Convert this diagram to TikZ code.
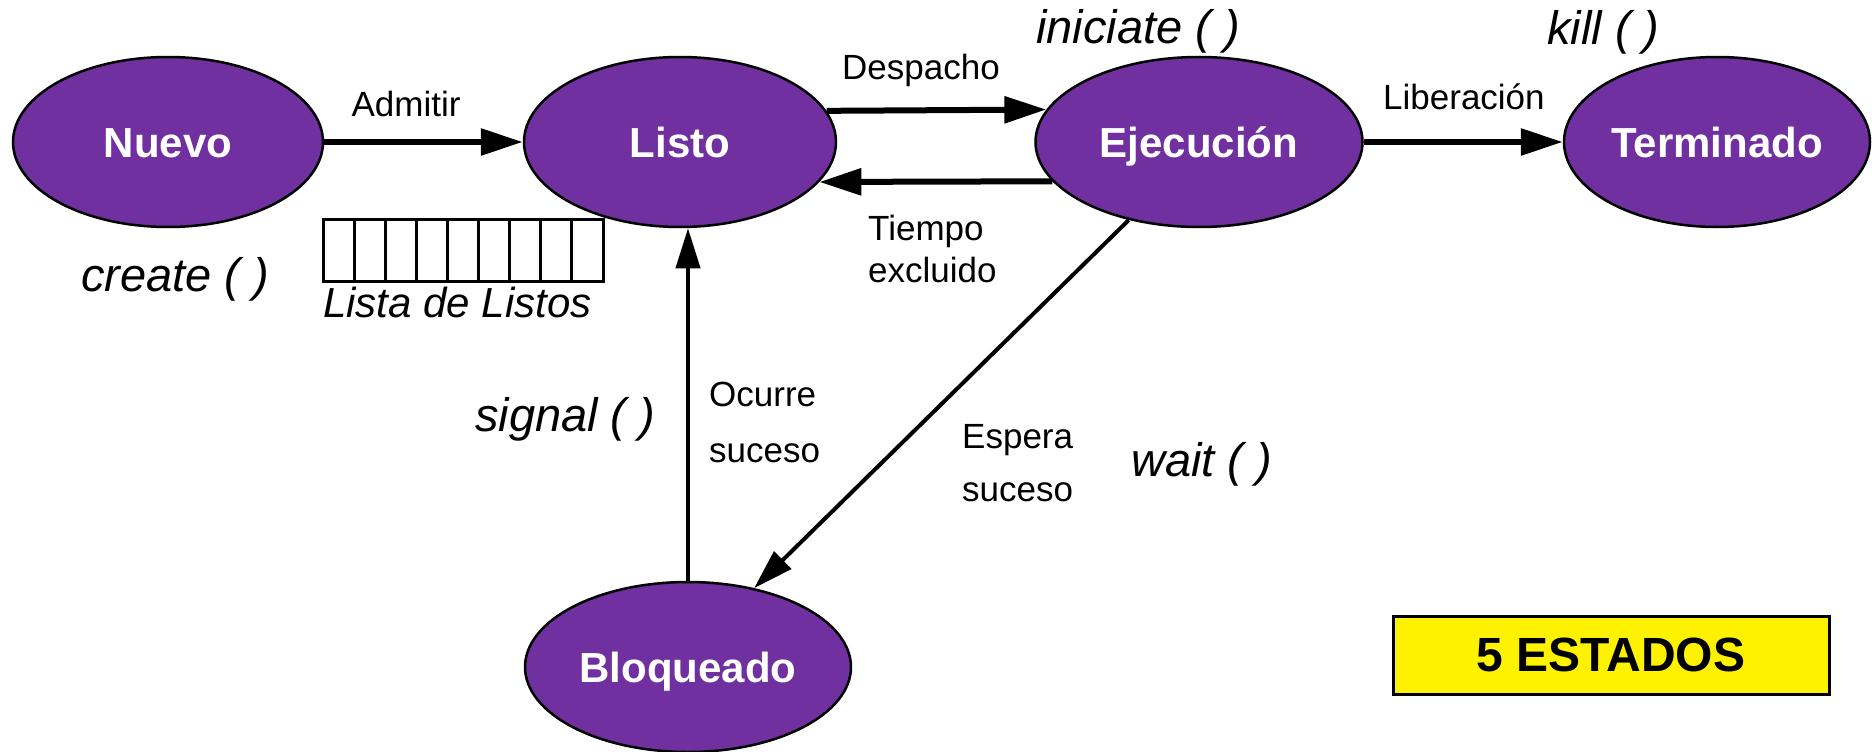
\documentclass[tikz,border=0pt]{standalone}
\usepackage{fontspec}
\setmainfont{Liberation Sans}
\usetikzlibrary{shapes.geometric,arrows.meta}
\definecolor{stpurple}{RGB}{112,48,160}
\begin{document}
\begin{tikzpicture}[x=1pt,y=-1pt,
  state/.style={ellipse, draw=black, line width=2.5pt, fill=stpurple, text=white,
    font=\fontsize{42}{50}\selectfont\bfseries, inner sep=0pt,
    text height=30pt, text depth=0pt,
    minimum width=312pt, minimum height=170pt},
  lbl/.style={inner sep=0pt, font=\fontsize{35}{42}\selectfont},
  fn/.style={inner sep=0pt, font=\fontsize{47}{55}\selectfont\itshape},
  arr/.style={line width=6pt, -{Triangle[length=42pt,width=26pt]}},
  thinarr/.style={line width=4pt, -{Triangle[length=40pt,width=24pt]}}
]
\useasboundingbox (0,0) rectangle (1872,752);

% states
\node[state, minimum width=310pt] (nuevo) at (168,142) {Nuevo};
\node[state] (listo) at (680,142) {Listo};
\node[state, minimum width=327pt] (ejec) at (1199,142) {Ejecución};
\node[state, minimum width=306pt] (term) at (1717,142) {Terminado};
\node[state, minimum width=326pt] (bloq) at (688,667) {Bloqueado};

% connectors
\draw[arr] (nuevo.east) -- (listo.west);
\draw[arr] (listo.12.5) -- (ejec.168);
\draw[arr] (ejec.195) -- (listo.344.3);
\draw[arr] (ejec.east) -- (term.west);
\draw[thinarr] (bloq.north) -- (bloq.north |- listo.south);
\draw[thinarr] (ejec.228) -- (bloq.50);

% labels
\node[lbl, anchor=base] (admitir) at (406,116) {Admitir};
\node[lbl, anchor=base west] (despacho) at (842,80) {Despacho};
\node[lbl, anchor=base west] (tiempo) at (868,240) {Tiempo};
\node[lbl, anchor=base west] (excluido) at (868,282) {excluido};
\node[lbl, anchor=base west] (liberacion) at (1383,110) {Liberación};
\node[lbl, anchor=base west] (ocurre) at (709,406) {Ocurre};
\node[lbl, anchor=base west] (suceso1) at (709,462) {suceso};
\node[lbl, anchor=base west] (espera) at (962,448) {Espera};
\node[lbl, anchor=base west] (suceso2) at (962,501) {suceso};

\node[fn, anchor=base west] (iniciate) at (1036,44) {iniciate ( )};
\node[fn, anchor=base west] (kill) at (1547,45) {kill ( )};
\node[fn, anchor=base west] (create) at (81,291) {create ( )};
\node[fn, anchor=base west] (signal) at (475,431) {signal ( )};
\node[fn, anchor=base west] (wait) at (1131,476) {wait ( )};

% ready queue
\draw[line width=3pt] (323,219) rectangle (603,281);
\foreach \i in {1,...,8} {
  \draw[line width=3pt] ({323+\i*31.11},219) -- ++(0,62);
}
\node[fn, font=\fontsize{42}{50}\selectfont\itshape, anchor=base west] (lista) at (323,317) {Lista de Listos};

% title box
\node[draw=black, line width=3pt, fill=yellow, minimum width=436pt, minimum height=78pt,
  inner sep=0pt, font=\fontsize{48}{56}\selectfont\bfseries] (estados) at (1611,655) {5 ESTADOS};
\end{tikzpicture}
\end{document}
